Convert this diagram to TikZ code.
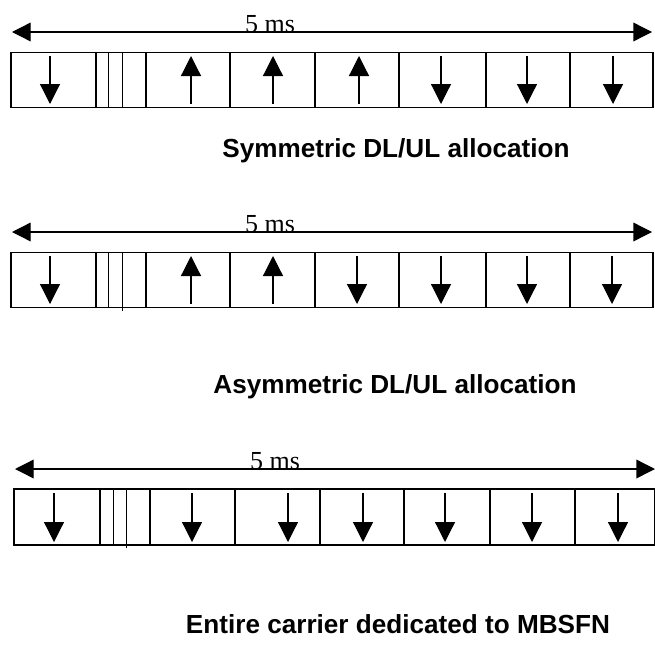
\documentclass[tikz,border=0pt]{standalone}
\usepackage{fontspec}
\setmainfont{Liberation Serif}
\newfontfamily\headingfont{Liberation Sans}
\usetikzlibrary{arrows.meta}
\tikzset{
	period/.style   = {line width=1pt,
		{Triangle[length=14pt,width=14pt]}-{Triangle[length=14pt,width=14pt]}},
	subframe/.style = {line width=1.2pt},
	guard/.style    = {line width=0.7pt},
	link/.style     = {line width=0.9pt, -{Triangle[length=15pt,width=15pt]}},
	msnote/.style   = {font=\fontsize{19.5}{22}\selectfont, inner sep=0pt, anchor=base},
	heading/.style  = {font=\headingfont\bfseries\fontsize{19.6}{23}\selectfont,
		inner sep=0pt, anchor=base}
}

\begin{document}
\begin{tikzpicture}
[
x = 0.75pt,
y = -0.75pt
]
\useasboundingbox (0,0) rectangle (655,646);

% symmetric
\coordinate (s1) at (12,32);
\coordinate (s2) at (652,32);
\draw[period] (s1) -- (s2);
\node[msnote] (sms) at (270,32) {5 ms};
\draw[subframe] (11,52.5) rectangle (653,107.5);
\foreach \x in {96,146,230,315,399,486,570}
	\draw[subframe] (\x,52.5) -- (\x,107.5);
\foreach \x in {108,122}
	\draw[guard] (\x,52.5) -- (\x,107.5);
\foreach \x/\s in {50/1,191/-1,273/-1,359/-1,441/1,527/1,613/1}
	\draw[link] (\x,{80-24*\s}) -- (\x,{80+24*\s});
\node[heading] (sym) at (396,157) {Symmetric DL/UL allocation};

% asymmetric
\coordinate (a1) at (12,232);
\coordinate (a2) at (652,232);
\draw[period] (a1) -- (a2);
\node[msnote] (ams) at (270,232) {5 ms};
\draw[subframe] (11,252.5) rectangle (653,307.5);
\foreach \x in {96,146,230,315,399,486,570}
	\draw[subframe] (\x,252.5) -- (\x,307.5);
\draw[guard] (108,252.5) -- (108,307.5);
\draw[guard] (122,252.5) -- (122,310.5);
\foreach \x/\s in {50/1,191/-1,273/-1,357/1,441/1,527/1,612/1}
	\draw[link] (\x,{280-24*\s}) -- (\x,{280+24*\s});
\node[heading] (asym) at (395,393) {Asymmetric DL/UL allocation};

% MBSFN
\coordinate (m1) at (15,469);
\coordinate (m2) at (655,469);
\draw[period] (m1) -- (m2);
\node[msnote] (mms) at (275,469) {5 ms};
\draw[subframe] (14,489) rectangle (654.4,545);
\foreach \x in {100,150,235,320,404,490,575}
	\draw[subframe] (\x,489) -- (\x,545);
\draw[guard] (113,489) -- (113,545);
\draw[guard] (126,489) -- (126,548);
\foreach \x in {54,192,288,363,445,532,618}
	\draw[link] (\x,493) -- (\x,542);
\node[heading] (mbsfn) at (398,633) {Entire carrier dedicated to MBSFN};
\end{tikzpicture}
\end{document}
